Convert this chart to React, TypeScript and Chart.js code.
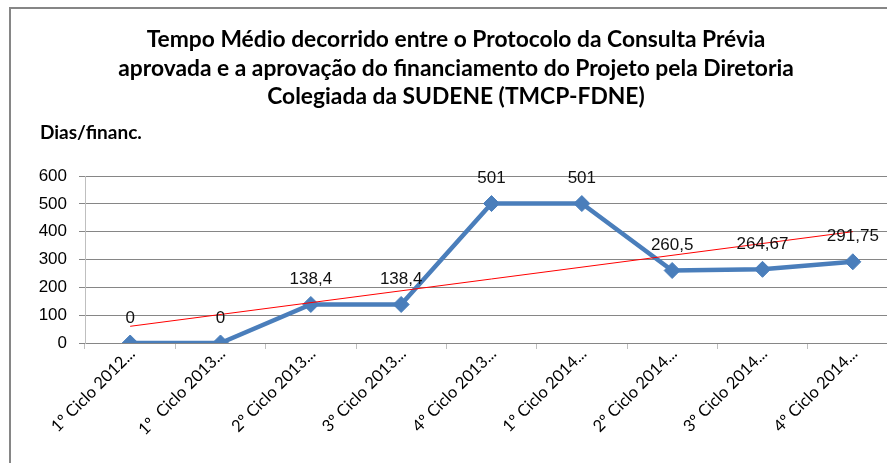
import React, { useEffect, useRef } from "react";
import { Chart, registerables } from "chart.js";

Chart.register(...registerables);

const categories: string[] = [
  "1º Ciclo 2012...",
  "1º  Ciclo 2013...",
  "2º Ciclo 2013...",
  "3º Ciclo 2013...",
  "4º Ciclo 2013...",
  "1º Ciclo 2014...",
  "2º Ciclo 2014...",
  "3º Ciclo 2014...",
  "4º Ciclo 2014...",
];
const tempoMedio: number[] = [0, 0, 138.4, 138.4, 501, 501, 260.5, 264.67, 291.75];
const tempoLabels: string[] = ["0", "0", "138,4", "138,4", "501", "501", "260,5", "264,67", "291,75"];
// linear trend line endpoints
const tendencia: (number | null)[] = [60, null, null, null, null, null, null, null, 400];
const yTicks: number[] = [0, 100, 200, 300, 400, 500, 600];

const titleLines: string[] = [
  "Tempo Médio decorrido entre o Protocolo da Consulta Prévia",
  "aprovada e a aprovação do financiamento do Projeto pela Diretoria",
  "Colegiada da SUDENE (TMCP-FDNE)",
];
const yAxisName = "Dias/financ.";

const NUM_FONT = "'Liberation Sans', Arial, sans-serif";
const TXT_FONT = "Lato, sans-serif";

const dataLabelPlugin = {
  id: "dataLabels",
  afterDatasetsDraw(chart: any) {
    const meta = chart.getDatasetMeta(0);
    const ctx = chart.ctx;
    ctx.save();
    ctx.font = `17px ${NUM_FONT}`;
    ctx.fillStyle = "#111111";
    ctx.textAlign = "center";
    ctx.textBaseline = "middle";
    meta.data.forEach((pt: any, i: number) => {
      ctx.fillText(tempoLabels[i], pt.x, pt.y - 25);
    });
    ctx.restore();
  },
};

export default function App() {
  const ref = useRef<HTMLCanvasElement | null>(null);
  useEffect(() => {
    document.body.style.margin = "0";
    document.body.style.overflow = "hidden";
    if (!ref.current) return;
    const chart = new Chart(ref.current, {
      type: "line",
      data: {
        labels: categories,
        datasets: [
          {
            label: "TMCP-FDNE",
            data: tempoMedio,
            borderColor: "#4A7EBB",
            backgroundColor: "#4A7EBB",
            borderWidth: 4.5,
            pointStyle: "rectRot",
            pointRadius: 8,
            pointBorderWidth: 1,
            pointBackgroundColor: "#4A7EBB",
            pointBorderColor: "#4A7EBB",
            tension: 0,
            order: 1,
          },
          {
            label: "Tendência",
            data: tendencia,
            borderColor: "#FF0000",
            borderWidth: 1,
            pointRadius: 0,
            spanGaps: true,
            tension: 0,
            order: 0,
          },
        ],
      },
      options: {
        animation: false,
        responsive: false,
        maintainAspectRatio: false,
        devicePixelRatio: 1,
        layout: { padding: { left: 0, right: 12, top: 176, bottom: 0 } },
        plugins: {
          legend: { display: false },
          title: { display: false },
          tooltip: { enabled: false },
        },
        scales: {
          x: {
            offset: true,
            grid: {
              offset: true,
              drawOnChartArea: false,
              drawTicks: true,
              tickLength: 6,
              tickColor: "#BFBFBF",
            },
            border: { color: "#868686", width: 1 },
            ticks: {
              autoSkip: false,
              maxRotation: 45,
              minRotation: 45,
              padding: -5,
              labelOffset: 2,
              color: "#000000",
              font: { family: TXT_FONT, size: 16.5 },
            },
            afterFit: (scale: any) => {
              scale.height = 120;
            },
          },
          y: {
            min: 0,
            max: 600,
            afterBuildTicks: (scale: any) => {
              scale.ticks = yTicks.map((v) => ({ value: v }));
            },
            grid: {
              color: "#868686",
              drawTicks: true,
              tickLength: 6,
              tickColor: "#868686",
            },
            border: { color: "#BFBFBF", width: 1 },
            ticks: {
              padding: 12,
              color: "#000000",
              font: { family: NUM_FONT, size: 17 },
            },
            afterFit: (scale: any) => {
              scale.width = 85;
            },
          },
        },
      },
      plugins: [dataLabelPlugin],
    });
    return () => chart.destroy();
  }, []);

  return (
    <div
      style={{
        position: "fixed",
        left: 0,
        top: 0,
        width: 887,
        height: 463,
        overflow: "hidden",
        background: "#FFFFFF",
      }}
    >
      <div
        style={{
          position: "absolute",
          left: 9,
          top: 7,
          width: 900,
          height: 480,
          borderLeft: "2px solid #868686",
          borderTop: "2px solid #868686",
        }}
      />
      <canvas
        ref={ref}
        width={910}
        height={463}
        style={{ position: "absolute", left: 0, top: 0, width: 910, height: 463 }}
      />
      <div
        style={{
          position: "absolute",
          left: 0,
          top: 24,
          width: 912,
          textAlign: "center",
          fontFamily: TXT_FONT,
          fontWeight: "bold",
          fontSize: 22.8,
          lineHeight: "28.5px",
          color: "#000000",
        }}
      >
        {titleLines.map((t, i) => (
          <div key={i} style={{ whiteSpace: "nowrap" }}>{t}</div>
        ))}
      </div>
      <div
        style={{
          position: "absolute",
          left: 40,
          top: 120,
          fontFamily: TXT_FONT,
          fontWeight: "bold",
          fontSize: 19,
          color: "#000000",
          whiteSpace: "nowrap",
        }}
      >
        {yAxisName}
      </div>
    </div>
  );
}
